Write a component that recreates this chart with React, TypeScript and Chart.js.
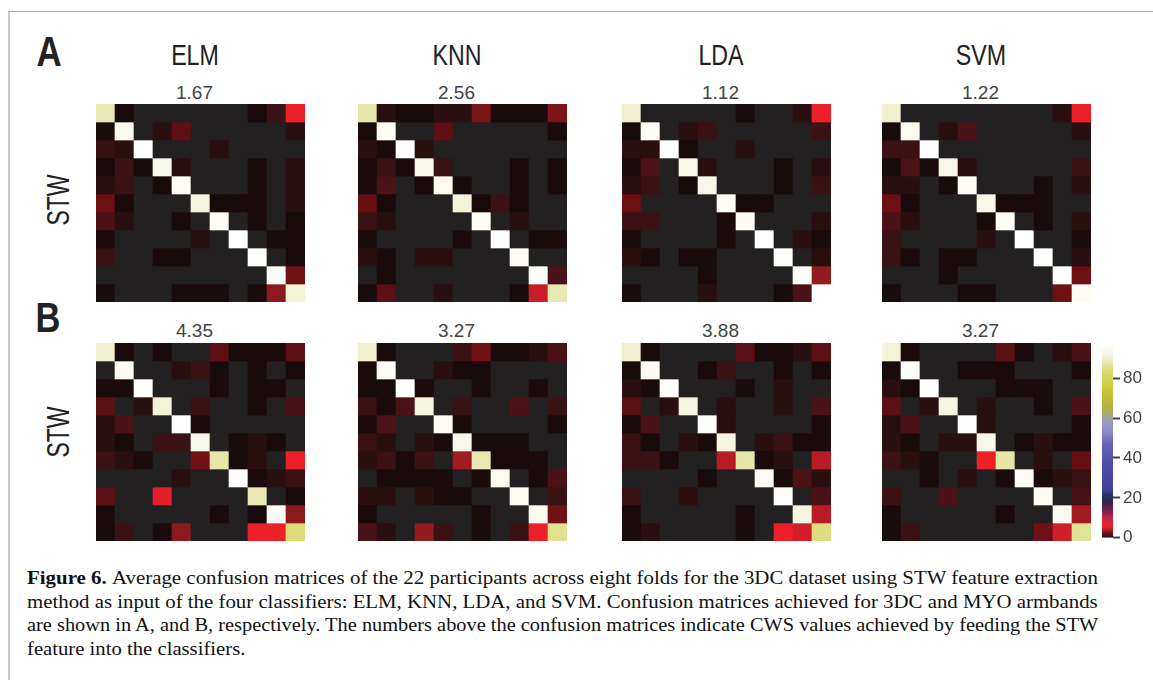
import React, { useEffect, useLayoutEffect, useRef } from 'react';
import { Chart, registerables } from 'chart.js';

Chart.register(...registerables);

// ---- data -------------------------------------------------------------
const CLASSIFIERS = ['ELM', 'KNN', 'LDA', 'SVM'];
const CWS_3DC = ['1.67', '2.56', '1.12', '1.22'];
const CWS_MYO = ['4.35', '3.27', '3.88', '3.27'];
const CLASSES = ['0', '1', '2', '3', '4', '5', '6', '7', '8', '9', '10'];
const COLORBAR_MAX = 97;
const COLORBAR_TICKS = [0, 20, 40, 60, 80];

// confusion matrices (% of true class, rows = true, cols = predicted) — 3DC armband
const ELM_3DC = [
  [88, 0.3, 0, 0, 0, 0, 0, 0, 0.3, 0.9, 5.5],
  [0.3, 94, 0, 0.6, 2, 0, 0, 0, 0, 0, 0.6],
  [0.8, 0.6, 97, 0, 0, 0, 0.6, 0, 0, 0, 0],
  [0.3, 0.9, 0.3, 93, 0.6, 0, 0, 0, 0.3, 0, 0.6],
  [0.6, 0.9, 0, 0.3, 95, 0, 0, 0, 0.3, 0, 0.6],
  [2.5, 0.3, 0, 0, 0, 92, 0.3, 0.3, 0.3, 0, 0.6],
  [1.4, 0.6, 0, 0, 0.3, 0, 95, 0, 0.3, 0, 0.3],
  [0.3, 0, 0, 0, 0, 0.6, 0, 97, 0, 0.3, 0.3],
  [0.9, 0, 0, 0.3, 0.3, 0, 0, 0, 96, 0, 0.3],
  [0, 0, 0, 0, 0, 0, 0, 0, 0, 96, 2.5],
  [0.3, 0, 0, 0, 0.3, 0.3, 0.3, 0, 0.3, 3.2, 91],
];
const KNN_3DC = [
  [87, 0.6, 0.3, 0.3, 0.6, 0.6, 2.8, 0.3, 0.3, 0.3, 2.8],
  [0.3, 95, 0, 0, 2, 0, 0, 0, 0, 0, 0.3],
  [0.6, 0.3, 97, 0.6, 0, 0, 0, 0, 0, 0, 0],
  [0.3, 0.9, 0.3, 93, 0.9, 0, 0, 0, 0.3, 0, 0.3],
  [0.3, 1.5, 0, 0.3, 94, 0.3, 0, 0, 0.3, 0, 0.3],
  [2.3, 0.3, 0, 0, 0, 91, 0.3, 0.9, 0.3, 0, 0],
  [0.9, 0.6, 0, 0, 0, 0, 95, 0, 0.6, 0, 0],
  [0.3, 0, 0, 0, 0, 0.3, 0, 97, 0, 0.3, 0.3],
  [0.6, 0.3, 0, 0.6, 0.6, 0, 0, 0, 95, 0, 0],
  [0, 0.3, 0, 0, 0, 0, 0, 0, 0, 96, 1.4],
  [0.3, 2, 0, 0, 0.6, 0, 0, 0, 0.3, 4.6, 88],
];
const LDA_3DC = [
  [90, 0, 0, 0, 0, 0, 0.3, 0, 0, 0.6, 5.5],
  [0.3, 95, 0, 0.6, 0.9, 0, 0, 0, 0, 0, 0.9],
  [0.6, 0.6, 97, 0.3, 0, 0, 0.6, 0, 0, 0, 0],
  [0.3, 1.5, 0, 93, 0.6, 0, 0, 0, 0.3, 0, 0.6],
  [0.6, 0.9, 0, 0.3, 93, 0, 0, 0, 0.3, 0, 0.9],
  [2.5, 0, 0, 0, 0, 95, 0.3, 0.3, 0, 0, 0],
  [0.9, 0.9, 0, 0, 0, 0.3, 95, 0, 0, 0, 0.6],
  [0.3, 0, 0, 0, 0, 0.3, 0, 97, 0, 0.6, 0.3],
  [0.6, 0.3, 0, 0.3, 0.3, 0, 0, 0, 96, 0, 0.6],
  [0, 0, 0, 0, 0.3, 0, 0, 0, 0, 96, 3.3],
  [0.3, 0, 0, 0, 0.6, 0, 0, 0, 0.3, 1.4, 97],
];
const SVM_3DC = [
  [90, 0, 0, 0, 0, 0, 0, 0, 0, 0.6, 5.5],
  [0.3, 94, 0, 0.6, 1.4, 0, 0, 0, 0, 0, 0.6],
  [0.9, 0.9, 97, 0, 0, 0, 0, 0, 0, 0, 0],
  [0.3, 1.5, 0.3, 93, 0.6, 0, 0, 0, 0, 0, 0.9],
  [0.6, 0.6, 0, 0.3, 95, 0, 0, 0, 0.3, 0, 0.6],
  [2.5, 0.3, 0, 0, 0, 93, 0.3, 0.3, 0.3, 0, 0],
  [1.4, 0.6, 0, 0, 0, 0.3, 95, 0, 0.3, 0, 0.6],
  [0.9, 0, 0, 0, 0, 0.6, 0, 97, 0, 0, 0.3],
  [0.9, 0.3, 0, 0.3, 0.3, 0, 0, 0, 96, 0, 0.6],
  [0, 0, 0, 0.3, 0, 0, 0, 0, 0, 97, 2.5],
  [0.3, 0, 0, 0, 0.3, 0.3, 0, 0, 0, 2.5, 95],
];

// MYO armband
const ELM_MYO = [
  [90, 0.3, 0, 0.3, 0, 0, 2, 0.3, 0.3, 0.3, 2],
  [0, 95, 0, 0, 0.6, 0.9, 0.3, 0, 0.3, 0, 0.3],
  [0.3, 0.3, 97, 0, 0, 0, 0.3, 0, 0.3, 0.3, 0],
  [2, 0, 0.6, 91, 0, 0.9, 0, 0, 0.3, 0, 1.3],
  [0.6, 1.4, 0, 0, 97, 0.3, 0, 0, 0, 0, 0],
  [0.6, 0.3, 0, 0.9, 0.9, 93, 0, 0.3, 0.6, 0.3, 0],
  [0.9, 0.6, 0.3, 0, 0, 2.6, 87, 0.3, 0.6, 0, 5.5],
  [0, 0, 0, 0, 0.6, 0, 0, 96, 0.3, 0.6, 0.9],
  [2, 0, 0, 5.3, 0, 0, 0, 0, 88, 0, 0.3],
  [0.3, 0, 0, 0, 0, 0, 0.3, 0, 0.3, 95, 3.2],
  [0.3, 0.9, 0, 0.3, 3.2, 0, 0, 0, 5.8, 5.8, 84],
];
const KNN_MYO = [
  [90, 0.3, 0, 0, 0, 0.9, 2.6, 0.3, 0.3, 0.6, 1.4],
  [0.3, 95, 0, 0, 0.6, 0.3, 0.3, 0, 0, 0, 0],
  [0.3, 0.3, 97, 0.3, 0, 0, 0.3, 0, 0, 0.3, 0],
  [0.9, 0.3, 1.5, 92, 0, 0.9, 0, 0, 1.5, 0, 0.9],
  [0.3, 1.5, 0, 0, 95, 0.3, 0, 0, 0, 0, 0.3],
  [0.9, 0.6, 0, 0.6, 0.3, 93, 0.3, 0.3, 0.3, 0, 0],
  [0.6, 0.9, 0.3, 0.9, 0, 3.6, 88, 0.3, 0.3, 0.3, 0],
  [0, 0.3, 0.3, 0.3, 0.3, 0, 0.3, 94, 0, 0.3, 1.4],
  [0.6, 0.6, 0, 0.6, 0.3, 0.3, 0, 0, 94, 0, 0.9],
  [0.3, 0, 0, 0, 0, 0, 0.3, 0, 0, 94, 2.6],
  [1.4, 0.6, 0, 3.3, 0.9, 0, 0.3, 0, 0.9, 5.8, 85.5],
];
const LDA_MYO = [
  [90, 0.3, 0, 0, 0, 0, 2, 0.3, 0.3, 0.6, 2],
  [0.3, 95, 0, 0, 0.3, 0.9, 0, 0, 0.3, 0, 0.3],
  [0.6, 0.3, 97, 0, 0, 0, 0.3, 0, 0.6, 0, 0],
  [2, 0, 0.6, 92, 0, 0.6, 0, 0, 0.6, 0, 1.4],
  [0.3, 1.4, 0, 0, 96, 0.6, 0, 0, 0, 0, 0.3],
  [0.9, 0.3, 0, 0.6, 0.3, 92, 0, 0.6, 0.9, 0.3, 0.3],
  [0.9, 0.9, 0.3, 0, 0, 4.2, 87, 0.3, 0.6, 0, 4.2],
  [0, 0, 0, 0, 0.3, 0, 0, 95, 0.3, 1.5, 0.6],
  [0.9, 0, 0, 0.6, 0, 0, 0, 0, 96, 0, 1.4],
  [0.3, 0, 0, 0, 0, 0, 0.3, 0, 0, 92, 4.2],
  [0.3, 0.6, 0, 0, 0, 0, 0.3, 0, 5.8, 4.8, 84.5],
];
const SVM_MYO = [
  [91, 0.3, 0, 0, 0, 0, 2, 0.3, 0, 0.6, 1.4],
  [0.3, 96, 0, 0, 0.3, 0.3, 0.3, 0, 0, 0, 0.3],
  [0.6, 0.3, 97, 0, 0, 0, 0.3, 0.3, 0.3, 0, 0],
  [2, 0, 0.6, 92, 0, 0.6, 0, 0, 0.3, 0, 1.4],
  [0.6, 1.4, 0, 0, 97, 0.6, 0, 0, 0, 0, 0.3],
  [0.6, 0.3, 0, 0.6, 0.6, 93, 0, 0.3, 0.6, 0.3, 0.3],
  [0.9, 0.6, 0.3, 0, 0, 5.5, 87, 0, 0.6, 0, 2.3],
  [0, 0, 0.3, 0, 0.6, 0, 0.3, 95, 0.3, 0.6, 0.9],
  [0.9, 0, 0, 1.4, 0, 0, 0, 0, 95, 0, 1.3],
  [0.3, 0, 0, 0, 0, 0, 0.3, 0, 0, 94, 3.6],
  [0.3, 0.9, 0, 0, 0, 0, 0, 0, 2.5, 4.8, 86],
];

const CAPTION_LINES = [
  'Average confusion matrices of the 22 participants across eight folds for the 3DC dataset using STW feature extraction',
  'method as input of the four classifiers: ELM, KNN, LDA, and SVM. Confusion matrices achieved for 3DC and MYO armbands',
  'are shown in A, and B, respectively. The numbers above the confusion matrices indicate CWS values achieved by feeding the STW',
  'feature into the classifiers.',
];

// ---- colour map -------------------------------------------------------
const ZERO_COLOR = '#232022';
const CMAP_STOPS: [number, string][] = [
  [0, '#0a0506'],
  [0.3, '#190b0b'],
  [0.6, '#2a0f11'],
  [0.9, '#3a1214'],
  [1.4, '#4a1216'],
  [2.0, '#5c1014'],
  [2.5, '#6e1014'],
  [3.2, '#8c1a1c'],
  [3.6, '#a01c22'],
  [4.2, '#b81c24'],
  [4.8, '#d01e2a'],
  [5.5, '#ec2028'],
  [6.5, '#f02030'],
  [10, '#c02844'],
  [14, '#702050'],
  [18, '#362244'],
  [21, '#203466'],
  [22.5, '#2a3c80'],
  [24, '#40409a'],
  [36, '#4c4ca4'],
  [47, '#6464b4'],
  [53, '#8888c8'],
  [57, '#9898c0'],
  [61, '#a4a494'],
  [65, '#b4b040'],
  [72, '#c4c030'],
  [78, '#d0d050'],
  [84, '#dcdc78'],
  [87, '#e6e6a8'],
  [90, '#f0f0d0'],
  [93, '#f8f8e8'],
  [97, '#ffffff'],
];

function hexToRgb(h: string): [number, number, number] {
  const n = parseInt(h.slice(1), 16);
  return [(n >> 16) & 255, (n >> 8) & 255, n & 255];
}

function cmap(v: number): string {
  if (v <= CMAP_STOPS[0][0]) return CMAP_STOPS[0][1];
  for (let i = 1; i < CMAP_STOPS.length; i++) {
    const [v1, c1] = CMAP_STOPS[i];
    if (v <= v1) {
      const [v0, c0] = CMAP_STOPS[i - 1];
      const t = (v - v0) / (v1 - v0);
      const a = hexToRgb(c0);
      const b = hexToRgb(c1);
      const m = a.map((x, k) => Math.round(x + (b[k] - x) * t));
      return `rgb(${m[0]},${m[1]},${m[2]})`;
    }
  }
  return CMAP_STOPS[CMAP_STOPS.length - 1][1];
}

const cellColor = (v: number) => (v === 0 ? ZERO_COLOR : cmap(v));

// ---- components -------------------------------------------------------
const CELL_W = 19;
const CELL_H = 18;

function Heatmap({ matrix, left, top }: { matrix: number[][]; left: number; top: number }) {
  const ref = useRef<HTMLCanvasElement | null>(null);
  useEffect(() => {
    if (!ref.current) return;
    const n = matrix.length;
    const chart = new Chart(ref.current, {
      type: 'bar',
      data: {
        labels: CLASSES,
        datasets: matrix.map((row, r) => ({
          data: row.map(() => [r, r + 1]),
          backgroundColor: row.map(cellColor),
          borderWidth: 0,
          grouped: false,
          barPercentage: 1,
          categoryPercentage: 1,
        })),
      } as any,
      options: {
        responsive: false,
        animation: false,
        events: [],
        layout: { padding: 0 },
        plugins: { legend: { display: false }, tooltip: { enabled: false } },
        scales: {
          x: { display: false, offset: true },
          y: { display: false, min: 0, max: n, reverse: true },
        },
      } as any,
    });
    return () => chart.destroy();
  }, [matrix]);
  return (
    <canvas
      ref={ref}
      width={CELL_W * CLASSES.length}
      height={CELL_H * CLASSES.length}
      style={{ position: 'absolute', left, top, width: CELL_W * CLASSES.length, height: CELL_H * CLASSES.length }}
    />
  );
}

function ColorBar({ left, top }: { left: number; top: number }) {
  const ref = useRef<HTMLCanvasElement | null>(null);
  useEffect(() => {
    if (!ref.current) return;
    const chart = new Chart(ref.current, {
      type: 'bar',
      data: {
        labels: [''],
        datasets: [
          {
            data: [[0, COLORBAR_MAX]],
            backgroundColor: (ctx: any) => {
              const c = ctx.chart;
              if (!c.chartArea) return '#000';
              const y = c.scales.y;
              const g = c.ctx.createLinearGradient(0, y.getPixelForValue(0), 0, y.getPixelForValue(COLORBAR_MAX));
              CMAP_STOPS.forEach(([v, col]) => g.addColorStop(Math.min(1, v / COLORBAR_MAX), col));
              return g;
            },
            borderWidth: 0,
            barPercentage: 1,
            categoryPercentage: 1,
          },
        ],
      } as any,
      options: {
        responsive: false,
        animation: false,
        events: [],
        layout: { padding: { top: 10, bottom: 10, left: 0, right: 0 } },
        plugins: { legend: { display: false }, tooltip: { enabled: false } },
        scales: {
          x: { display: false },
          y: {
            position: 'right',
            min: 0,
            max: COLORBAR_MAX,
            afterFit: (s: any) => {
              s.width = 40;
            },
            afterBuildTicks: (s: any) => {
              s.ticks = COLORBAR_TICKS.map((v) => ({ value: v }));
            },
            border: { display: false },
            grid: {
              drawOnChartArea: false,
              drawTicks: true,
              tickLength: 7,
              tickWidth: 2,
              color: '#444',
              tickColor: '#444',
            },
            ticks: {
              color: '#444',
              padding: 3,
              font: { family: '"Liberation Sans", Arial, sans-serif', size: 17 },
            },
          },
        },
      } as any,
    });
    return () => chart.destroy();
  }, []);
  return <canvas ref={ref} width={51} height={220} style={{ position: 'absolute', left, top, width: 51, height: 220 }} />;
}

function Label({
  x, y, text, size, weight = 400, color = '#222', sx = 1, rotate = 0,
}: {
  x: number; y: number; text: string; size: number; weight?: number; color?: string; sx?: number; rotate?: number;
}) {
  return (
    <div
      style={{
        position: 'absolute',
        left: x,
        top: y,
        transform: `translate(-50%, -50%) rotate(${rotate}deg) scaleX(${sx})`,
        fontFamily: '"Liberation Sans", Arial, sans-serif',
        fontSize: size,
        fontWeight: weight,
        color,
        lineHeight: 1,
        whiteSpace: 'nowrap',
      }}
    >
      {text}
    </div>
  );
}

const CAPTION_LEFT = 27;
const CAPTION_WIDTH = 1071;
const CAPTION_TOPS = [566, 590, 613, 637];

function Caption() {
  const refs = useRef<(HTMLDivElement | null)[]>([]);
  useLayoutEffect(() => {
    const els = refs.current;
    const scales = els.slice(0, 3).map((el) => (el ? CAPTION_WIDTH / el.offsetWidth : 1));
    const avg = scales.reduce((a, b) => a + b, 0) / scales.length;
    els.forEach((el, i) => {
      if (el) el.style.transform = `scaleX(${i < 3 ? scales[i] : avg})`;
    });
  }, []);
  return (
    <>
      {CAPTION_LINES.map((line, i) => (
        <div
          key={i}
          ref={(el) => {
            refs.current[i] = el;
          }}
          style={{
            position: 'absolute',
            left: CAPTION_LEFT,
            top: CAPTION_TOPS[i],
            transformOrigin: 'left center',
            fontFamily: '"Liberation Serif", "Times New Roman", serif',
            fontSize: 19,
            lineHeight: '24px',
            color: '#111',
            whiteSpace: 'nowrap',
          }}
        >
          {i === 0 && <b>Figure 6. </b>}
          {line}
        </div>
      ))}
    </>
  );
}

const MATRIX_LEFTS = [96, 358, 622, 882];
const ROW_3DC = [ELM_3DC, KNN_3DC, LDA_3DC, SVM_3DC];
const ROW_MYO = [ELM_MYO, KNN_MYO, LDA_MYO, SVM_MYO];
const TOP_3DC = 104;
const TOP_MYO = 343;

export default function App() {
  const titleX = (l: number) => l + (CELL_W * CLASSES.length) / 2 - 6;
  return (
    <div
      style={{
        position: 'absolute',
        left: 0,
        top: 0,
        width: 1153,
        height: 680,
        overflow: 'hidden',
        background: '#fff',
      }}
    >
      {/* page frame */}
      <div
        style={{
          position: 'absolute',
          left: 8,
          top: 11,
          width: 1300,
          height: 800,
          borderTop: '1px solid #a8a8a8',
          borderLeft: '2px solid #c8c8c8',
        }}
      />

      <Label x={49} y={52} text="A" size={42} weight={700} sx={0.83} />
      <Label x={48} y={318} text="B" size={42} weight={700} sx={0.82} />
      <Label x={58} y={200} text="STW" size={32} sx={0.72} rotate={-90} />
      <Label x={58} y={432} text="STW" size={32} sx={0.72} rotate={-90} />

      {CLASSIFIERS.map((name, i) => (
        <React.Fragment key={name}>
          <Label x={titleX(MATRIX_LEFTS[i])} y={55} text={name} size={29} sx={0.8} />
          <Label x={titleX(MATRIX_LEFTS[i])} y={92} text={CWS_3DC[i]} size={19} color="#444" />
          <Label x={titleX(MATRIX_LEFTS[i])} y={330} text={CWS_MYO[i]} size={19} color="#444" />
          <Heatmap matrix={ROW_3DC[i]} left={MATRIX_LEFTS[i]} top={TOP_3DC} />
          <Heatmap matrix={ROW_MYO[i]} left={MATRIX_LEFTS[i]} top={TOP_MYO} />
        </React.Fragment>
      ))}

      <ColorBar left={1102} top={331} />
      <Caption />
    </div>
  );
}
